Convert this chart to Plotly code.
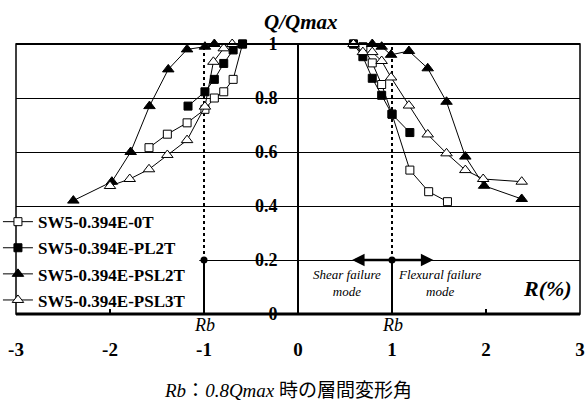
import plotly.graph_objects as go

# ---- data (R in %, Q/Qmax) ----
names = ["SW5-0.394E-0T", "SW5-0.394E-PL2T", "SW5-0.394E-PSL2T", "SW5-0.394E-PSL3T"]

r_0T_neg = [-1.585, -1.39, -1.18, -0.99, -0.89, -0.79, -0.69, -0.59]
q_0T_neg = [0.616, 0.666, 0.708, 0.758, 0.80, 0.823, 0.869, 1.0]
r_0T_pos = [0.59, 0.69, 0.79, 0.89, 1.0, 1.19, 1.39, 1.59]
q_0T_pos = [1.0, 0.99, 0.93, 0.85, 0.74, 0.533, 0.453, 0.416]

r_PL2T_neg = [-1.17, -0.99, -0.89, -0.79, -0.69, -0.59]
q_PL2T_neg = [0.77, 0.823, 0.869, 0.928, 0.978, 1.0]
r_PL2T_pos = [0.59, 0.69, 0.79, 0.89, 1.0, 1.19]
q_PL2T_pos = [1.0, 0.953, 0.873, 0.81, 0.74, 0.672]

r_PSL2T_neg = [-2.39, -1.98, -1.78, -1.58, -1.38, -1.18, -0.99, -0.89]
q_PSL2T_neg = [0.42, 0.49, 0.60, 0.77, 0.906, 0.98, 0.99, 1.0]
r_PSL2T_pos = [0.79, 0.89, 0.99, 1.18, 1.38, 1.58, 1.78, 1.98, 2.38]
q_PSL2T_pos = [1.0, 0.99, 0.96, 0.974, 0.91, 0.786, 0.583, 0.475, 0.426]

r_PSL3T_neg = [-2.0, -1.79, -1.585, -1.39, -1.18, -0.99, -0.90, -0.79, -0.70]
q_PSL3T_neg = [0.474, 0.50, 0.536, 0.589, 0.644, 0.768, 0.934, 0.984, 1.0]
r_PSL3T_pos = [0.59, 0.69, 0.79, 0.89, 0.99, 1.18, 1.38, 1.58, 1.78, 1.97, 2.38]
q_PSL3T_pos = [1.0, 0.97, 0.97, 0.937, 0.876, 0.772, 0.665, 0.595, 0.533, 0.50, 0.49]

x_ticks = [-3, -2, -1, 0, 1, 2, 3]
y_ticks = [0, 0.2, 0.4, 0.6, 0.8, 1]
y_tick_labels = ["0", "0.2", "0.4", "0.6", "0.8", "1"]
rb_values = [-1, 1]
rb_level = 0.2

SERIF = "Liberation Serif, Times New Roman, serif"

styles = [
    dict(symbol="square", color="white", size=8),
    dict(symbol="square", color="black", size=8),
    dict(symbol="triangle-up", color="black", size=10),
    dict(symbol="triangle-up", color="white", size=10),
]
series = [
    (r_0T_neg, q_0T_neg, r_0T_pos, q_0T_pos),
    (r_PL2T_neg, q_PL2T_neg, r_PL2T_pos, q_PL2T_pos),
    (r_PSL2T_neg, q_PSL2T_neg, r_PSL2T_pos, q_PSL2T_pos),
    (r_PSL3T_neg, q_PSL3T_neg, r_PSL3T_pos, q_PSL3T_pos),
]

fig = go.Figure()

for name, st, (xn, yn, xp, yp) in zip(names, styles, series):
    for i, (xs, ys) in enumerate([(xn, yn), (xp, yp)]):
        fig.add_trace(go.Scatter(
            x=xs, y=ys, mode="lines+markers", name=name,
            legendgroup=name, showlegend=(i == 0),
            line=dict(color="black", width=1),
            marker=dict(symbol=st["symbol"], color=st["color"], size=st["size"],
                        line=dict(color="black", width=1)),
            cliponaxis=False,
        ))

# white patch behind the legend (hides the 0.2 gridline there)
fig.add_shape(type="rect", xref="x", yref="y", x0=-3, x1=-1.05, y0=0.02, y1=0.36,
              fillcolor="white", line=dict(width=0), layer="between")

# Rb reference lines
for rb in rb_values:
    fig.add_shape(type="line", x0=rb, x1=rb, y0=rb_level, y1=1, xref="x", yref="y",
                  line=dict(color="black", width=2, dash="dot"), layer="between")
    fig.add_shape(type="line", x0=rb, x1=rb, y0=0, y1=rb_level, xref="x", yref="y",
                  line=dict(color="black", width=2))
fig.add_trace(go.Scatter(x=rb_values, y=[rb_level] * len(rb_values), mode="markers",
                         marker=dict(color="black", size=7), showlegend=False,
                         cliponaxis=False))

# frame
fig.add_shape(type="rect", xref="x domain", yref="y domain", x0=0, x1=1, y0=0, y1=1,
              line=dict(color="black", width=1.5))
fig.add_shape(type="line", xref="x domain", yref="y domain", x0=0, x1=1, y0=1, y1=1,
              line=dict(color="black", width=2))
fig.add_shape(type="line", xref="x domain", yref="y domain", x0=0, x1=1, y0=0, y1=0,
              line=dict(color="black", width=3))

# arrows for failure modes
for tip in [0.575, 1.44]:
    fig.add_annotation(x=tip, y=rb_level, ax=rb_values[1], ay=rb_level,
                       xref="x", yref="y", axref="x", ayref="y",
                       showarrow=True, arrowhead=2, arrowsize=1, arrowwidth=2.5,
                       arrowcolor="black", text="")

fig.add_annotation(x=0.52, y=0.115, xref="x", yref="y", showarrow=False,
                   xanchor="center", yanchor="middle",
                   text="<i>Shear failure<br>mode</i>",
                   font=dict(family=SERIF, size=13, color="black"))
fig.add_annotation(x=1.5, y=0.115, xref="x", yref="y", showarrow=False,
                   xanchor="center", yanchor="middle",
                   text="<i>Flexural failure<br>mode</i>",
                   font=dict(family=SERIF, size=13, color="black"))
fig.add_annotation(x=2.65, y=0.096, xref="x", yref="y", showarrow=False,
                   xanchor="center", yanchor="middle",
                   text="<i>R(%)</i>",
                   font=dict(family=SERIF, size=22, color="black", weight="bold"))
for rb in rb_values:
    fig.add_annotation(x=rb, y=-0.041, xref="x", yref="paper", showarrow=False,
                       xanchor="center", yanchor="middle",
                       text="<i>Rb</i>", font=dict(family=SERIF, size=18, color="black"))
fig.add_annotation(x=0.03, y=1.08, xref="x", yref="paper", showarrow=False,
                   xanchor="center", yanchor="middle",
                   text="<i>Q/Qmax</i>",
                   font=dict(family=SERIF, size=21, color="black", weight="bold"))
fig.add_annotation(x=0.482, y=-0.283, xref="paper", yref="paper", showarrow=False,
                   xanchor="center", yanchor="middle",
                   text="<i>Rb</i>：<i>0.8Qmax</i> 時の層間変形角",
                   font=dict(family="Liberation Serif, Noto Sans CJK JP", size=19, color="black"))

fig.update_layout(
    width=586, height=403,
    margin=dict(l=16, r=6, t=44, b=89, autoexpand=False),
    plot_bgcolor="white", paper_bgcolor="white",
    xaxis=dict(range=[-3, 3], tickvals=x_ticks, ticktext=[str(v) for v in x_ticks],
               ticks="inside", ticklen=5, tickwidth=2, tickcolor="black",
               showgrid=False, zeroline=False, showline=False,
               tickfont=dict(family=SERIF, size=19, color="black", weight="bold"),
               ticklabelstandoff=22, ticklabeloverflow="allow"),
    yaxis=dict(range=[0, 1], tickvals=y_ticks, ticktext=y_tick_labels,
               anchor="free", position=0.5,
               showline=True, linecolor="black", linewidth=2,
               ticks="outside", ticklen=5, tickcolor="black",
               showgrid=True, gridcolor="black", gridwidth=1, zeroline=False,
               tickfont=dict(family=SERIF, size=18, color="black", weight="bold"),
               ticklabelstandoff=11),
    legend=dict(x=-0.032, y=0.407, xanchor="left", yanchor="top",
                bgcolor="rgba(0,0,0,0)", borderwidth=0,
                font=dict(family=SERIF, size=17, color="black", weight="bold"),
                itemwidth=30, tracegroupgap=1),
    showlegend=True,
)

fig.write_html("out.html",
               config={"displayModeBar": False},
               post_script="document.body.style.margin='0px';document.body.style.overflow='hidden';")
